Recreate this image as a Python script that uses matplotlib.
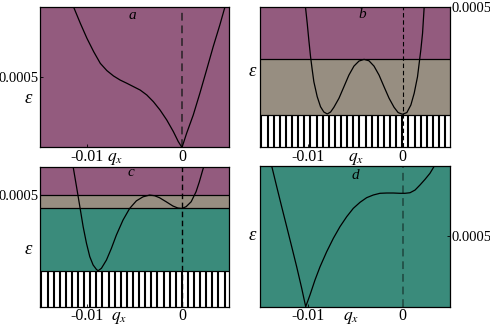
import numpy as np
import matplotlib.pyplot as plt

plt.rcParams['font.family'] = ['Liberation Serif', 'DejaVu Serif']
plt.rcParams['mathtext.fontset'] = 'stix'

# units: q in 1e-3, energy in 1e-4
qa = [-11.44, -10.74, -10.04, -9.33, -8.63, -7.93, -7.23, -6.53, -5.82, -5.12, -4.42, -3.72, -3.02,
      -2.32, -1.61, -0.91, -0.39, 0.0, 0.49, 1.19, 1.89, 2.60, 3.30, 4.00, 4.53]
ea = [9.98, 8.84, 7.77, 6.82, 5.99, 5.47, 5.09, 4.80, 4.57, 4.33, 4.09, 3.74, 3.26,
      2.67, 1.96, 1.13, 0.42, 0.0, 1.01, 2.31, 3.86, 5.52, 7.18, 8.72, 9.98]

qb = [-10.21, -10.03, -9.86, -9.68, -9.50, -9.33, -8.98, -8.63, -8.28, -7.92, -7.57, -7.22, -6.69,
      -6.17, -5.64, -5.11, -4.58, -4.05, -3.53, -3.00, -2.47, -1.94, -1.41, -0.89, -0.46, 0.0,
      0.46, 0.88, 1.23, 1.58, 1.93, 2.11, 2.28]
eb = [5.00, 4.43, 3.83, 3.24, 2.76, 2.34, 1.81, 1.45, 1.26, 1.19, 1.26, 1.43, 1.75,
      2.16, 2.58, 2.90, 3.08, 3.14, 3.09, 2.90, 2.58, 2.16, 1.75, 1.43, 1.24, 1.18,
      1.24, 1.51, 1.93, 2.52, 3.48, 4.07, 5.00]

qc = [-11.50, -11.14, -10.79, -10.44, -10.09, -9.74, -9.39, -9.04, -8.86, -8.51, -7.98, -7.46, -6.93,
      -6.23, -5.53, -4.82, -4.12, -3.42, -2.89, -2.37, -1.67, -0.96, -0.44, 0.0, 0.44, 0.97,
      1.49, 1.84, 2.19, 2.30]
ec = [6.27, 5.37, 4.48, 3.58, 2.84, 2.24, 1.87, 1.67, 1.61, 1.72, 2.09, 2.61, 3.21,
      3.88, 4.40, 4.74, 4.92, 5.00, 4.97, 4.88, 4.70, 4.51, 4.42, 4.40, 4.48, 4.70,
      5.15, 5.60, 6.12, 6.27]

qd = [-13.77, -13.24, -12.72, -12.19, -11.66, -11.14, -10.61, -10.19, -9.74, -9.21, -8.68, -7.98,
      -7.28, -6.58, -5.87, -5.18, -4.47, -3.77, -3.07, -2.37, -1.66, -0.97, -0.26, 0.26, 0.79,
      1.32, 1.84, 2.37, 2.89, 3.35]
ed = [10.0, 8.53, 7.11, 5.69, 4.26, 2.84, 1.31, 0.0, 0.83, 1.90, 2.84, 3.91,
      4.86, 5.69, 6.40, 6.99, 7.42, 7.75, 7.94, 8.06, 8.08, 8.08, 8.06, 8.06, 8.10,
      8.29, 8.65, 9.05, 9.48, 10.0]

# energy bands (bottom, top, kind) and y range per panel
bands_a = [(0.0, 10.0, 'purple')]
bands_b = [(0.0, 1.15, 'hatch'), (1.15, 3.14, 'gray'), (3.14, 5.0, 'purple')]
bands_c = [(0.0, 1.61, 'hatch'), (1.61, 4.40, 'teal'), (4.40, 5.00, 'gray'), (5.00, 6.27, 'purple')]
bands_d = [(0.0, 10.0, 'teal')]
ytop = {'a': 10.0, 'b': 5.0, 'c': 6.27, 'd': 10.0}

xticks = [-0.01, 0.0]
xticklabels = ['-0.01', '0']
ytick = 0.0005

colors = {'purple': '#935b7e', 'gray': '#978e81', 'teal': '#3a8b7b'}

fig = plt.figure(figsize=(4.9, 3.27), dpi=100)
W, H = 490.0, 327.0


def make_ax(l, t, r, b):
    return fig.add_axes([l / W, 1 - b / H, (r - l) / W, (b - t) / H])


def panel(ax, q, e, bands, name, yside, qx_pos, letter_pos, eps_pos, dash):
    ax.set_xlim(-0.015, 0.005)
    ax.set_ylim(0, ytop[name] * 1e-4)
    for lo, hi, kind in bands:
        if kind == 'hatch':
            ax.axhspan(lo * 1e-4, hi * 1e-4, color='white', lw=0)
            ax.vlines(np.arange(-0.01485, 0.005, 0.000645), lo * 1e-4, hi * 1e-4,
                      color='black', lw=1.5)
        else:
            ax.axhspan(lo * 1e-4, hi * 1e-4, color=colors[kind], lw=0)
        if lo > 0:
            ax.axhline(lo * 1e-4, color='black', lw=0.9)
    ax.axvline(0, color=dash[0], lw=dash[1], ls=(0, (4, 2.5)))
    ax.plot(np.array(q) * 1e-3, np.array(e) * 1e-4, color='black', lw=0.9)

    ax.set_xticks(xticks)
    ax.set_xticklabels(xticklabels)
    ax.set_yticks([ytick])
    ax.set_yticklabels(['0.0005'])
    ax.tick_params(direction='in', length=2, width=0.6, pad=1)
    ax.tick_params(axis='x', labelsize=11.5)
    ax.tick_params(axis='y', labelsize=10.5)
    if yside == 'right':
        ax.yaxis.tick_right()
    for s in ax.spines.values():
        s.set_linewidth(0.9)

    ax.annotate('$q_x$', xy=(qx_pos, 0), xycoords=('data', 'axes fraction'),
                xytext=(0, -2.5), textcoords='offset points', ha='center', va='top', fontsize=12.5)
    ax.text(letter_pos[0], letter_pos[1], name, transform=ax.transAxes, ha='center', va='center',
            fontsize=11, style='italic')
    fig.text(eps_pos[0] / W, 1 - eps_pos[1] / H, 'ε', ha='center', va='center',
             fontsize=13.5, style='italic')


ax_a = make_ax(40, 7, 229.3, 147.5)
panel(ax_a, qa, ea, bands_a, 'a', 'left', -0.0071, (0.486, 0.943), (28, 98), ('#3d2d38', 1.4))

ax_b = make_ax(260, 7.3, 450, 147.3)
panel(ax_b, qb, eb, bands_b, 'b', 'right', -0.0049, (0.537, 0.945), (252, 72), ('black', 0.8))

ax_c = make_ax(40, 166.7, 229.3, 306.7)
panel(ax_c, qc, ec, bands_c, 'c', 'left', -0.0066, (0.481, 0.962), (28, 250), ('black', 1.0))

ax_d = make_ax(260, 166, 450, 306.7)
panel(ax_d, qd, ed, bands_d, 'd', 'right', -0.0054, (0.5, 0.929), (252, 236), ('#24554b', 1.4))

fig.savefig('out.png', dpi=100)
